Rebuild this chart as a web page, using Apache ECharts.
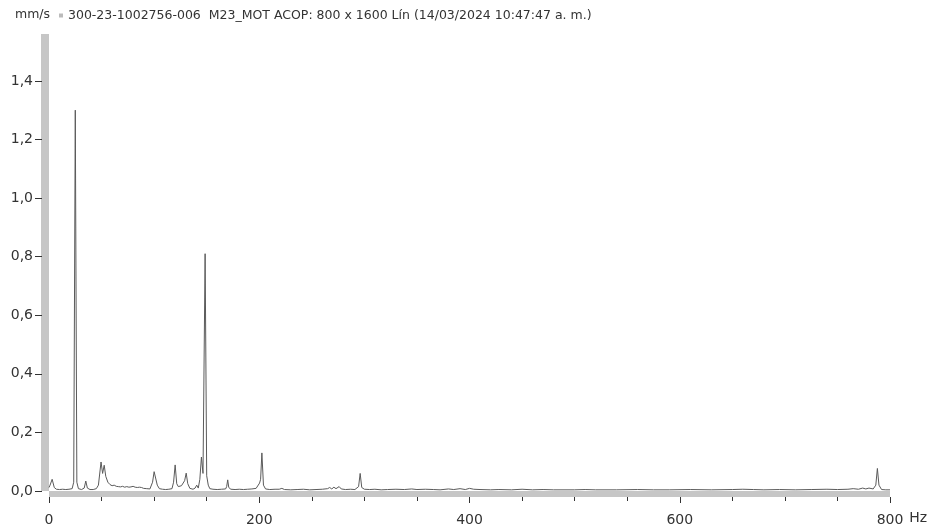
<!DOCTYPE html>
<html>
<head>
<meta charset="utf-8">
<script src="https://cdn.jsdelivr.net/npm/echarts/dist/echarts.min.js"></script>
<style>
    body { margin: 0; background: #fff; }
    #chart { width: 938px; height: 526px; }
</style>
</head>
<body>
<div id="chart"></div>
<script>
// espectro de velocidad (mm/s) vs frecuencia (Hz)
var serieNombre = '300-23-1002756-006  M23_MOT ACOP: 800 x 1600 Lín (14/03/2024 10:47:47 a. m.)';
var xTicks = [0, 200, 400, 600, 800];
var yTicks = [0, 0.2, 0.4, 0.6, 0.8, 1.0, 1.2, 1.4];

var hz = [
    0, 1, 3, 5, 7, 10, 13, 16, 19, 22, 23.5, 25, 26.5, 28, 31, 33.5, 35, 36.5, 39, 42,
    45, 47, 49.5, 51, 52.5, 54, 56, 58, 60, 62, 64, 66, 68, 70, 72, 74, 76, 78, 80, 82,
    84, 86, 88, 90, 93, 96, 98.5, 100, 101.5, 103, 105, 108, 111, 114, 117, 118.5, 120, 121.5, 123, 124.5,
    126, 127.5, 129, 130.5, 132, 134, 137, 139, 140.5, 142, 143.5, 145, 146.5, 148.5, 150, 151.5, 153, 156, 160, 164,
    168, 169, 170, 171, 173, 177, 181, 185, 189, 193, 197, 200.3, 201.3, 202.5, 204, 206, 210, 215, 219, 221.5,
    224, 230, 236, 242, 248, 254, 260, 265, 267, 269, 271, 273, 276, 278, 282, 287, 291, 294.5, 296, 297.5,
    300, 305, 310, 316, 322, 330, 338, 345, 350, 358, 366, 372, 380, 385, 391, 396, 400, 404, 410, 420,
    428, 440, 450, 460, 470, 480, 500, 510, 520, 540, 560, 575, 590, 610, 630, 650, 660, 670, 680, 695,
    710, 725, 740, 750, 760, 765, 770, 774, 777, 780, 784, 786.5, 788, 789.5, 792, 796, 800
];
var mms = [
    0.012, 0.02, 0.04, 0.012, 0.006, 0.005, 0.006, 0.005, 0.006, 0.008, 0.03, 1.30, 0.03, 0.008, 0.005, 0.01, 0.034, 0.01, 0.005, 0.005,
    0.008, 0.02, 0.099, 0.06, 0.088, 0.05, 0.03, 0.022, 0.018, 0.02, 0.016, 0.015, 0.014, 0.016, 0.013, 0.015, 0.013, 0.014, 0.016, 0.013,
    0.012, 0.013, 0.012, 0.009, 0.008, 0.007, 0.03, 0.066, 0.06, 0.02, 0.008, 0.006, 0.005, 0.006, 0.008, 0.03, 0.089, 0.025, 0.015, 0.02,
    0.018, 0.022, 0.035, 0.061, 0.025, 0.009, 0.006, 0.01, 0.02, 0.01, 0.04, 0.116, 0.06, 0.81, 0.052, 0.02, 0.008, 0.006, 0.005, 0.006,
    0.007, 0.015, 0.038, 0.012, 0.006, 0.005, 0.006, 0.005, 0.006, 0.007, 0.009, 0.027, 0.04, 0.13, 0.02, 0.007, 0.005, 0.006, 0.006, 0.009,
    0.005, 0.004, 0.005, 0.006, 0.004, 0.005, 0.006, 0.008, 0.012, 0.007, 0.013, 0.008, 0.015, 0.007, 0.005, 0.006, 0.005, 0.015, 0.06, 0.012,
    0.006, 0.005, 0.006, 0.004, 0.005, 0.006, 0.005, 0.007, 0.005, 0.006, 0.005, 0.004, 0.007, 0.005, 0.008, 0.005, 0.009, 0.006, 0.005, 0.004,
    0.005, 0.004, 0.006, 0.004, 0.005, 0.004, 0.004, 0.005, 0.004, 0.004, 0.005, 0.004, 0.004, 0.005, 0.004, 0.005, 0.006, 0.005, 0.004, 0.005,
    0.004, 0.005, 0.006, 0.005, 0.006, 0.008, 0.006, 0.01, 0.007, 0.01, 0.007, 0.02, 0.077, 0.02, 0.005, 0.004, 0.004
];

var puntos = [];
for (var i = 0; i < hz.length; i++) {
    puntos.push([hz[i], mms[i]]);
}

var fuente = 'DejaVu Sans';
var barraColor = '#c6c6c6';
var marcaColor = '#333';

// eje vacío para rellenar la pareja x/y de cada grid auxiliar
function ejeOculto(idx, min, max) {
    return { type: 'value', gridIndex: idx, min: min, max: max, show: false };
}

var myCharts = echarts.init(document.getElementById('chart'), null, { renderer: 'canvas' });
var option = {
    animation: false,
    title: {
        text: 'mm/s',
        left: 10,
        top: 3,
        textStyle: { fontFamily: fuente, fontSize: 12.5, fontWeight: 'normal', color: '#333' }
    },
    legend: {
        left: 54,
        top: 4,
        icon: 'rect',
        itemWidth: 4,
        itemHeight: 4,
        itemGap: 5,
        selectedMode: false,
        data: [{ name: serieNombre, itemStyle: { color: '#bbbbbb' } }],
        textStyle: { fontFamily: fuente, fontSize: 12.5, color: '#333' }
    },
    grid: [
        { left: 49, right: 48, top: 34, bottom: 35, outerBoundsMode: 'none' },  // 0 datos
        { left: 45, right: 48, top: 34, bottom: 35, outerBoundsMode: 'none' },  // 1 barra vertical
        { left: 49, right: 48, top: 34, bottom: 32, outerBoundsMode: 'none' },  // 2 barra horizontal
        { left: 42, right: 48, top: 81, bottom: 35, outerBoundsMode: 'none' },  // 3 marcas eje y
        { left: 49, right: 48, top: 81, bottom: 29, outerBoundsMode: 'none' }   // 4 marcas eje x
    ],
    xAxis: [
        ejeOculto(0, 0, 800),
        ejeOculto(1, 0, 800),
        {
            type: 'value',
            gridIndex: 2,
            position: 'bottom',
            min: 0,
            max: 800,
            axisLine: { show: true, lineStyle: { color: barraColor, width: 6, cap: 'butt' } },
            axisTick: { show: false },
            axisLabel: { show: false },
            splitLine: { show: false }
        },
        ejeOculto(3, 0, 800),
        {
            type: 'value',
            gridIndex: 4,
            position: 'bottom',
            min: xTicks[0],
            max: xTicks[xTicks.length - 1],
            interval: 200,
            name: 'Hz',
            nameLocation: 'end',
            nameGap: 15,
            nameTextStyle: { fontFamily: fuente, fontSize: 14, color: '#333', verticalAlign: 'top', padding: [14, 0, 0, 0] },
            axisLine: { show: false },
            axisTick: { show: true, length: 6, lineStyle: { color: marcaColor } },
            minorTick: { show: true, splitNumber: 4, length: 4, lineStyle: { color: marcaColor } },
            axisLabel: { margin: 16, fontFamily: fuente, fontSize: 14, color: '#333' },
            splitLine: { show: false }
        }
    ],
    yAxis: [
        ejeOculto(0, 0, 1.56),
        {
            type: 'value',
            gridIndex: 1,
            position: 'left',
            min: 0,
            max: 1.56,
            axisLine: { show: true, lineStyle: { color: barraColor, width: 8, cap: 'butt' } },
            axisTick: { show: false },
            axisLabel: { show: false },
            splitLine: { show: false }
        },
        ejeOculto(2, 0, 1.56),
        {
            type: 'value',
            gridIndex: 3,
            position: 'left',
            min: yTicks[0],
            max: yTicks[yTicks.length - 1],
            interval: 0.2,
            axisLine: { show: false },
            axisTick: { show: true, length: 7, lineStyle: { color: marcaColor, width: 1 } },
            axisLabel: {
                margin: 9,
                fontFamily: fuente,
                fontSize: 14,
                color: '#333',
                formatter: function (v) { return v.toFixed(1).replace('.', ','); }
            },
            splitLine: { show: false }
        },
        ejeOculto(4, 0, 1.4)
    ],
    series: [{
        name: serieNombre,
        type: 'line',
        xAxisIndex: 0,
        yAxisIndex: 0,
        smooth: false,
        showSymbol: false,
        symbol: 'none',
        lineStyle: { color: '#5a5a5a', width: 1 },
        itemStyle: { color: '#5a5a5a' },
        data: puntos
    }]
};
myCharts.setOption(option);
</script>
</body>
</html>
